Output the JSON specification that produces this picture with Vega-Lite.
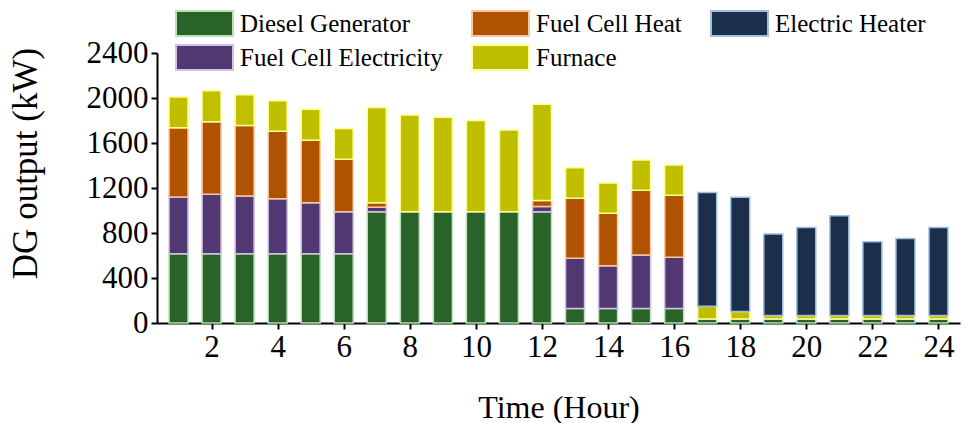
{
  "$schema": "https://vega.github.io/schema/vega-lite/v6.json",
  "width": 803,
  "height": 270,
  "autosize": {"type": "none"},
  "padding": {"left": 157, "top": 53, "right": 5, "bottom": 100},
  "background": "white",
  "datasets": {
    "ranks": [
      {"source": "Diesel Generator", "rank": 0},
      {"source": "Fuel Cell Electricity", "rank": 1},
      {"source": "Fuel Cell Heat", "rank": 2},
      {"source": "Furnace", "rank": 3},
      {"source": "Electric Heater", "rank": 4}
    ]
  },
  "data": {
    "values": [
      {"hour": 1, "source": "Diesel Generator", "value": 615},
      {"hour": 1, "source": "Fuel Cell Electricity", "value": 505},
      {"hour": 1, "source": "Fuel Cell Heat", "value": 615},
      {"hour": 1, "source": "Furnace", "value": 275},
      {"hour": 2, "source": "Diesel Generator", "value": 615},
      {"hour": 2, "source": "Fuel Cell Electricity", "value": 530},
      {"hour": 2, "source": "Fuel Cell Heat", "value": 645},
      {"hour": 2, "source": "Furnace", "value": 275},
      {"hour": 3, "source": "Diesel Generator", "value": 615},
      {"hour": 3, "source": "Fuel Cell Electricity", "value": 515},
      {"hour": 3, "source": "Fuel Cell Heat", "value": 625},
      {"hour": 3, "source": "Furnace", "value": 275},
      {"hour": 4, "source": "Diesel Generator", "value": 615},
      {"hour": 4, "source": "Fuel Cell Electricity", "value": 490},
      {"hour": 4, "source": "Fuel Cell Heat", "value": 600},
      {"hour": 4, "source": "Furnace", "value": 270},
      {"hour": 5, "source": "Diesel Generator", "value": 615},
      {"hour": 5, "source": "Fuel Cell Electricity", "value": 455},
      {"hour": 5, "source": "Fuel Cell Heat", "value": 555},
      {"hour": 5, "source": "Furnace", "value": 275},
      {"hour": 6, "source": "Diesel Generator", "value": 615},
      {"hour": 6, "source": "Fuel Cell Electricity", "value": 375},
      {"hour": 6, "source": "Fuel Cell Heat", "value": 465},
      {"hour": 6, "source": "Furnace", "value": 275},
      {"hour": 7, "source": "Diesel Generator", "value": 990},
      {"hour": 7, "source": "Fuel Cell Electricity", "value": 40},
      {"hour": 7, "source": "Fuel Cell Heat", "value": 40},
      {"hour": 7, "source": "Furnace", "value": 845},
      {"hour": 8, "source": "Diesel Generator", "value": 990},
      {"hour": 8, "source": "Furnace", "value": 860},
      {"hour": 9, "source": "Diesel Generator", "value": 990},
      {"hour": 9, "source": "Furnace", "value": 840},
      {"hour": 10, "source": "Diesel Generator", "value": 990},
      {"hour": 10, "source": "Furnace", "value": 810},
      {"hour": 11, "source": "Diesel Generator", "value": 990},
      {"hour": 11, "source": "Furnace", "value": 725},
      {"hour": 12, "source": "Diesel Generator", "value": 990},
      {"hour": 12, "source": "Fuel Cell Electricity", "value": 45},
      {"hour": 12, "source": "Fuel Cell Heat", "value": 55},
      {"hour": 12, "source": "Furnace", "value": 855},
      {"hour": 13, "source": "Diesel Generator", "value": 130},
      {"hour": 13, "source": "Fuel Cell Electricity", "value": 445},
      {"hour": 13, "source": "Fuel Cell Heat", "value": 535},
      {"hour": 13, "source": "Furnace", "value": 270},
      {"hour": 14, "source": "Diesel Generator", "value": 130},
      {"hour": 14, "source": "Fuel Cell Electricity", "value": 380},
      {"hour": 14, "source": "Fuel Cell Heat", "value": 465},
      {"hour": 14, "source": "Furnace", "value": 270},
      {"hour": 15, "source": "Diesel Generator", "value": 130},
      {"hour": 15, "source": "Fuel Cell Electricity", "value": 475},
      {"hour": 15, "source": "Fuel Cell Heat", "value": 575},
      {"hour": 15, "source": "Furnace", "value": 270},
      {"hour": 16, "source": "Diesel Generator", "value": 130},
      {"hour": 16, "source": "Fuel Cell Electricity", "value": 455},
      {"hour": 16, "source": "Fuel Cell Heat", "value": 550},
      {"hour": 16, "source": "Furnace", "value": 270},
      {"hour": 17, "source": "Diesel Generator", "value": 36},
      {"hour": 17, "source": "Furnace", "value": 114},
      {"hour": 17, "source": "Electric Heater", "value": 1010},
      {"hour": 18, "source": "Diesel Generator", "value": 36},
      {"hour": 18, "source": "Furnace", "value": 67},
      {"hour": 18, "source": "Electric Heater", "value": 1014},
      {"hour": 19, "source": "Diesel Generator", "value": 36},
      {"hour": 19, "source": "Furnace", "value": 30},
      {"hour": 19, "source": "Electric Heater", "value": 725},
      {"hour": 20, "source": "Diesel Generator", "value": 36},
      {"hour": 20, "source": "Furnace", "value": 30},
      {"hour": 20, "source": "Electric Heater", "value": 784},
      {"hour": 21, "source": "Diesel Generator", "value": 36},
      {"hour": 21, "source": "Furnace", "value": 30},
      {"hour": 21, "source": "Electric Heater", "value": 888},
      {"hour": 22, "source": "Diesel Generator", "value": 36},
      {"hour": 22, "source": "Furnace", "value": 30},
      {"hour": 22, "source": "Electric Heater", "value": 657},
      {"hour": 23, "source": "Diesel Generator", "value": 36},
      {"hour": 23, "source": "Furnace", "value": 30},
      {"hour": 23, "source": "Electric Heater", "value": 686},
      {"hour": 24, "source": "Diesel Generator", "value": 36},
      {"hour": 24, "source": "Furnace", "value": 30},
      {"hour": 24, "source": "Electric Heater", "value": 784}
    ]
  },
  "transform": [
    {"lookup": "source", "from": {"data": {"name": "ranks"}, "key": "source", "fields": ["rank"]}}
  ],
  "mark": {"type": "bar", "size": 19, "strokeWidth": 1.5, "stroke": "white"},
  "encoding": {
    "x": {
      "field": "hour",
      "type": "quantitative",
      "scale": {"domain": [0.5, 24.5], "nice": false, "zero": false},
      "axis": {
        "values": [2, 4, 6, 8, 10, 12, 14, 16, 18, 20, 22, 24],
        "title": "Time (Hour)",
        "titleY": 84,
        "titleBaseline": "middle",
        "titleFontSize": 32,
        "labelPadding": 3
      }
    },
    "y": {
      "field": "value",
      "type": "quantitative",
      "stack": "zero",
      "scale": {"domain": [0, 2400], "nice": false},
      "axis": {
        "values": [0, 400, 800, 1200, 1600, 2000, 2400],
        "format": "d",
        "title": "DG output (kW)",
        "titleX": -132,
        "titleY": 110,
        "titleAlign": "center",
        "titleBaseline": "middle",
        "titleAngle": -90,
        "titleFontSize": 35,
        "labelPadding": 3
      }
    },
    "order": {"field": "rank", "type": "quantitative", "sort": "ascending"},
    "fill": {
      "field": "source",
      "type": "nominal",
      "scale": {
        "domain": ["Diesel Generator", "Fuel Cell Heat", "Electric Heater", "Fuel Cell Electricity", "Furnace"],
        "range": ["#2a6329", "#b05300", "#1b2f4a", "#513873", "#bfbf00"]
      },
      "legend": {
        "title": null,
        "orient": "none",
        "legendX": 18,
        "legendY": -43,
        "direction": "horizontal",
        "columns": 3,
        "symbolType": "M-1,-1H3.56V1H-1Z",
        "symbolSize": 625,
        "symbolStrokeWidth": 2,
        "labelFont": "Liberation Serif",
        "labelFontSize": 25,
        "labelColor": "black",
        "labelLimit": 0,
        "labelOffset": 38,
        "columnPadding": 25,
        "rowPadding": 1,
        "padding": 0,
        "encode": {"labels": {"update": {"font": {"value": "Liberation Serif"}}}}
      }
    },
    "stroke": {
      "field": "source",
      "type": "nominal",
      "scale": {
        "domain": ["Diesel Generator", "Fuel Cell Heat", "Electric Heater", "Fuel Cell Electricity", "Furnace"],
        "range": ["#b8e2b8", "#f7c9a2", "#9dbfe0", "#cfc2e3", "#ffff99"]
      },
      "legend": {
        "title": null,
        "orient": "none",
        "legendX": 18,
        "legendY": -43,
        "direction": "horizontal",
        "columns": 3,
        "symbolType": "M-1,-1H3.56V1H-1Z",
        "symbolSize": 625,
        "symbolStrokeWidth": 2,
        "labelFont": "Liberation Serif",
        "labelFontSize": 25,
        "labelColor": "black",
        "labelLimit": 0,
        "labelOffset": 38,
        "columnPadding": 25,
        "rowPadding": 1,
        "padding": 0,
        "encode": {"labels": {"update": {"font": {"value": "Liberation Serif"}}}}
      }
    }
  },
  "config": {
    "font": "Liberation Serif",
    "view": {"stroke": null},
    "legend": {
      "labelFont": "Liberation Serif",
      "labelFontSize": 25,
      "labelColor": "black",
      "labelLimit": 0
    },
    "axis": {
      "grid": false,
      "domainColor": "black",
      "domainWidth": 2,
      "tickColor": "black",
      "tickWidth": 2,
      "tickSize": 6,
      "labelFont": "Liberation Serif",
      "labelFontSize": 31,
      "labelColor": "black",
      "titleFont": "Liberation Serif",
      "titleFontSize": 32,
      "titleFontWeight": "normal",
      "titleColor": "black",
      "labelFlush": false
    }
  }
}
